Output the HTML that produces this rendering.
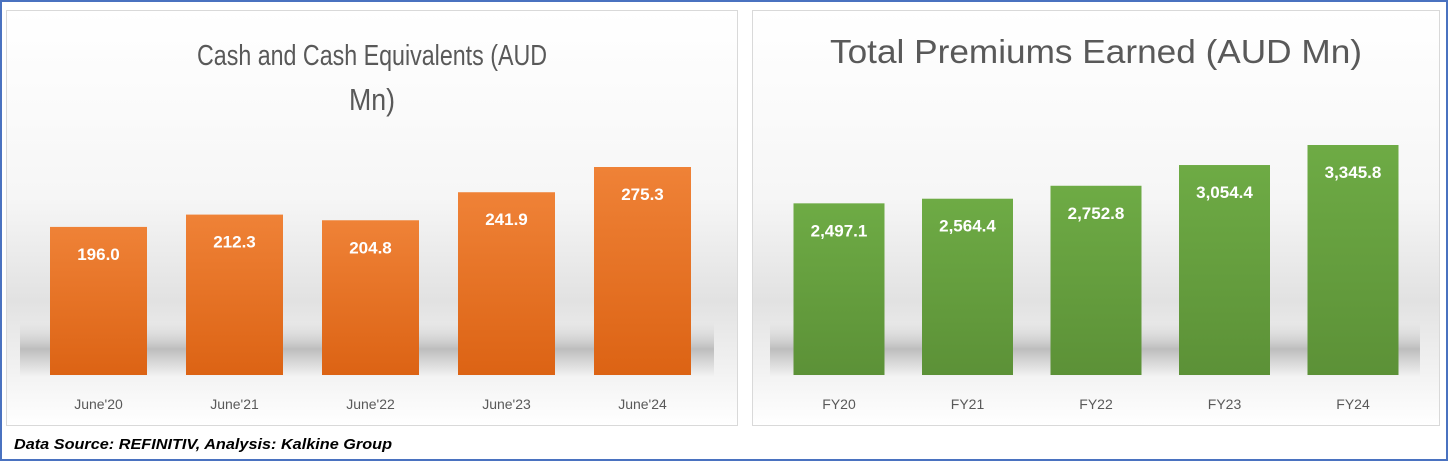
<!DOCTYPE html>
<html><head><meta charset="utf-8">
<style>
html,body{margin:0;padding:0;background:#fff;}
svg{display:block;font-family:"Liberation Sans",sans-serif;}
</style></head>
<body>
<svg width="1448" height="461" viewBox="0 0 1448 461">
<defs>
<linearGradient id="panelBg" x1="0" y1="0" x2="0" y2="1">
<stop offset="0" stop-color="#ffffff"/><stop offset="0.45" stop-color="#f6f6f6"/><stop offset="0.7" stop-color="#e2e2e2"/><stop offset="0.88" stop-color="#f3f3f3"/><stop offset="1" stop-color="#ffffff"/>
</linearGradient>
<linearGradient id="floor" x1="0" y1="0" x2="0" y2="1">
<stop offset="0" stop-color="#d6d6d6" stop-opacity="0"/><stop offset="0.5" stop-color="#bdbdbd"/><stop offset="1" stop-color="#f2f2f2"/>
</linearGradient>
<linearGradient id="orange" x1="0" y1="0" x2="0" y2="1">
<stop offset="0" stop-color="#ef8237"/><stop offset="1" stop-color="#dc6314"/>
</linearGradient>
<linearGradient id="green" x1="0" y1="0" x2="0" y2="1">
<stop offset="0" stop-color="#6eab45"/><stop offset="1" stop-color="#5c9137"/>
</linearGradient>
</defs>
<rect x="1" y="1" width="1446" height="459" fill="#fff" stroke="#4a72c0" stroke-width="2"/>
<g>
<rect x="6.5" y="10.5" width="731" height="415" fill="url(#panelBg)" stroke="#d9d9d9"/>
<rect x="20" y="322" width="694" height="54" fill="url(#floor)"/>
<text x="372" y="65" text-anchor="middle" font-size="29" fill="#595959" textLength="350" lengthAdjust="spacingAndGlyphs">Cash and Cash Equivalents (AUD</text>
<text x="372" y="110" text-anchor="middle" font-size="31" fill="#595959" textLength="46" lengthAdjust="spacingAndGlyphs">Mn)</text>
<g id="leftBars"></g>
</g>
<g>
<rect x="752.5" y="10.5" width="687" height="415" fill="url(#panelBg)" stroke="#d9d9d9"/>
<rect x="770" y="322" width="650" height="54" fill="url(#floor)"/>
<text x="1096" y="63" text-anchor="middle" font-size="33" fill="#595959" textLength="532" lengthAdjust="spacingAndGlyphs">Total Premiums Earned (AUD Mn)</text>
<g id="rightBars"></g>
</g>
<text x="14" y="449" font-size="15" font-weight="bold" font-style="italic" fill="#000" textLength="378" lengthAdjust="spacingAndGlyphs">Data Source: REFINITIV, Analysis: Kalkine Group</text>
</svg>
<script>
const leftCategories = ["June'20","June'21","June'22","June'23","June'24"];
const leftValues = [196.0, 212.3, 204.8, 241.9, 275.3];
const leftLabels = ["196.0","212.3","204.8","241.9","275.3"];
const rightCategories = ["FY20","FY21","FY22","FY23","FY24"];
const rightValues = [2497.1, 2564.4, 2752.8, 3054.4, 3345.8];
const rightLabels = ["2,497.1","2,564.4","2,752.8","3,054.4","3,345.8"];

const NS = "http://www.w3.org/2000/svg";
function drawChart(gid, cats, vals, labs, cfg){
  const g = document.getElementById(gid);
  const yScale = v => cfg.base - v * cfg.k;
  const xCenter = i => cfg.x0 + i * cfg.step;
  cats.forEach((c,i)=>{
    const top = yScale(vals[i]);
    const r = document.createElementNS(NS,'rect');
    r.setAttribute('x', xCenter(i) - cfg.w/2);
    r.setAttribute('y', top);
    r.setAttribute('width', cfg.w);
    r.setAttribute('height', cfg.base - top);
    r.setAttribute('fill', cfg.fill);
    
    
    g.appendChild(r);
    const t = document.createElementNS(NS,'text');
    t.setAttribute('x', xCenter(i));
    t.setAttribute('y', top + 33);
    t.setAttribute('text-anchor','middle');
    t.setAttribute('font-size','17');
    t.setAttribute('font-weight','bold');
    t.setAttribute('fill','#fff');
    t.textContent = labs[i];
    
    
    g.appendChild(t);
    const x = document.createElementNS(NS,'text');
    x.setAttribute('x', xCenter(i));
    x.setAttribute('y', 409);
    x.setAttribute('text-anchor','middle');
    x.setAttribute('font-size','14');
    x.setAttribute('fill','#595959');
    x.textContent = c;
    
    
    g.appendChild(x);
  });
}
drawChart('leftBars', leftCategories, leftValues, leftLabels, {base:375, k:208/275.3, x0:98.5, step:136, w:97, fill:'url(#orange)'});
drawChart('rightBars', rightCategories, rightValues, rightLabels, {base:375, k:230/3345.8, x0:839, step:128.5, w:91, fill:'url(#green)'});
</script>
</body></html>
